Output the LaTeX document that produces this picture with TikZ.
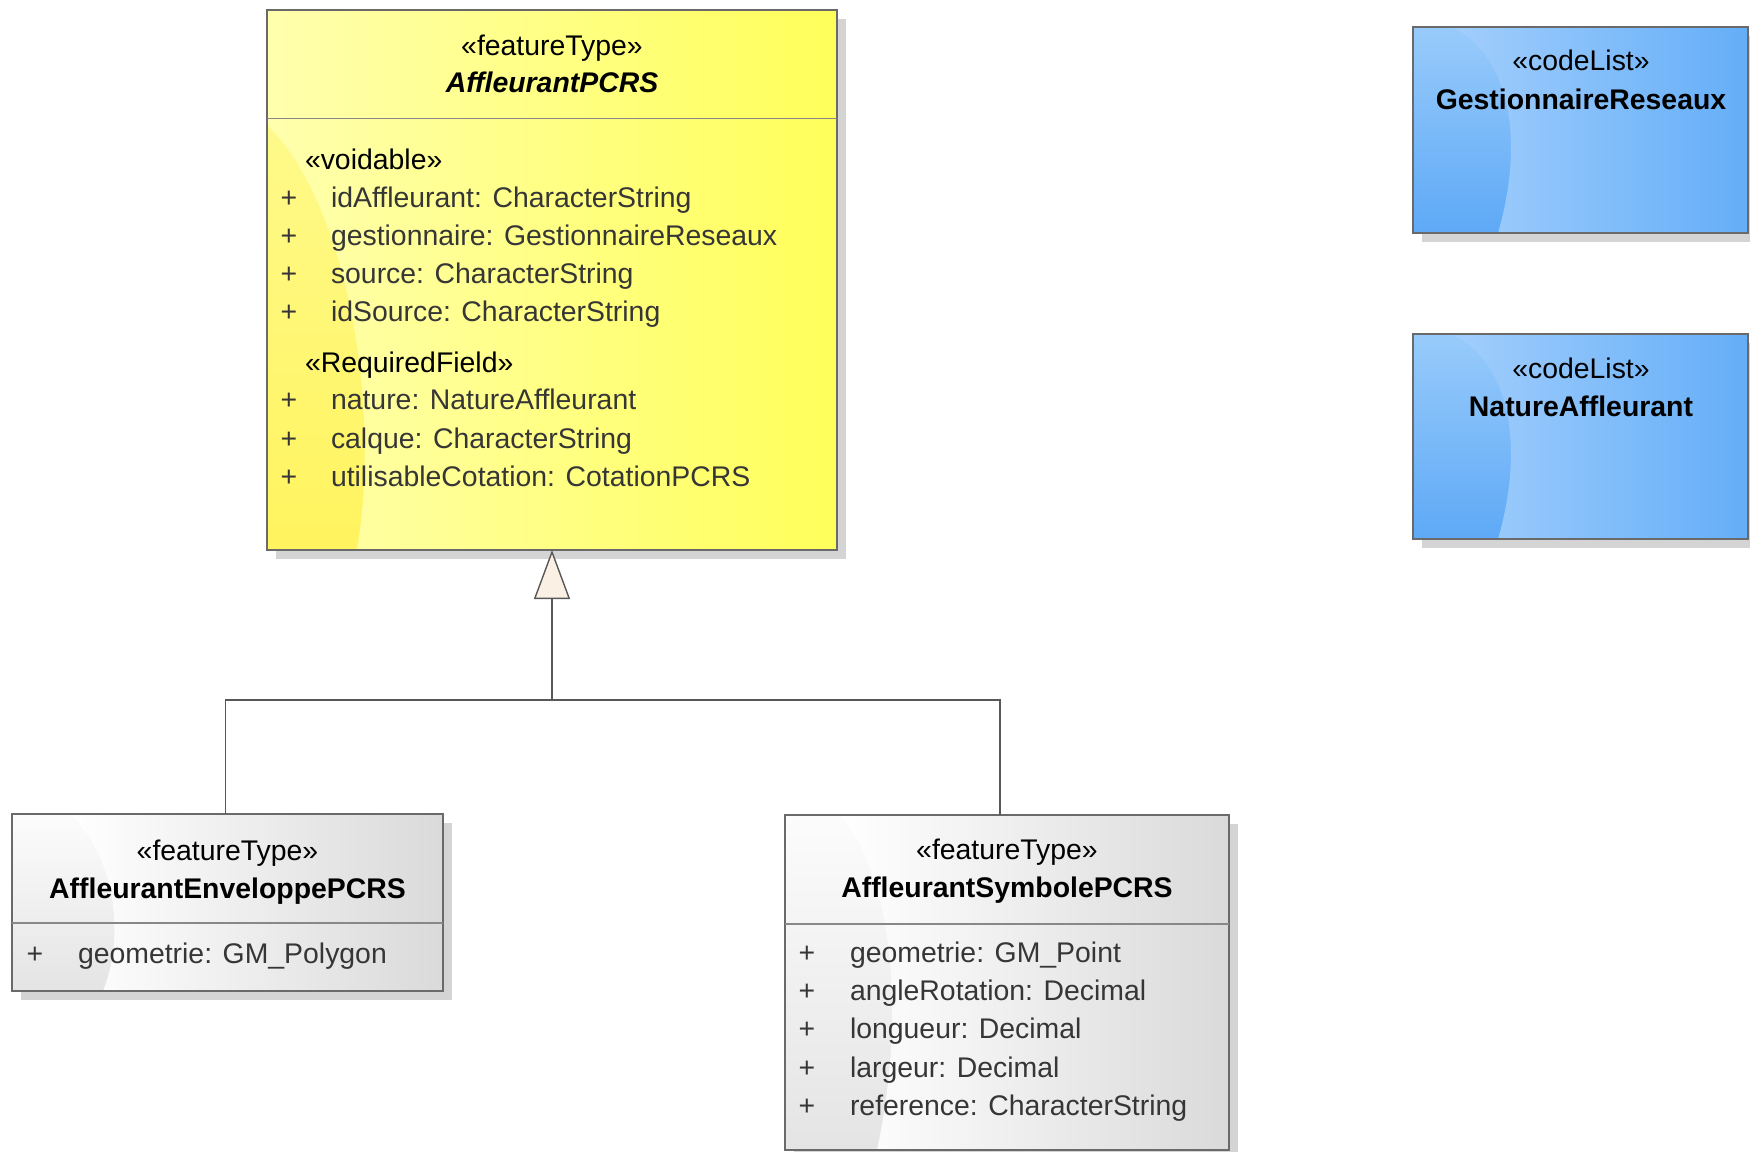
\documentclass[tikz,border=0pt]{standalone}
\usepackage{fontspec}
\setmainfont{Liberation Sans}
\usetikzlibrary{arrows.meta}

\definecolor{shadowgray}{HTML}{D4D4D4}
\definecolor{edgegray}{HTML}{6A6A6A}
\definecolor{linegray}{HTML}{585858}
\definecolor{attrgray}{HTML}{363636}
\definecolor{yelTop}{HTML}{FFFB96}
\definecolor{yelBot}{HTML}{FFF45E}
\definecolor{yelPale}{HTML}{FFFFAE}
\definecolor{yelMid}{HTML}{FFFFA6}
\definecolor{yelR}{HTML}{FFFF5A}
\definecolor{bluTop}{HTML}{98CBFB}
\definecolor{bluBot}{HTML}{5EA9F6}
\definecolor{bluPale}{HTML}{A2CEFC}
\definecolor{bluMid}{HTML}{98C9FB}
\definecolor{bluR}{HTML}{64AEF8}
\definecolor{gryTop}{HTML}{FCFCFC}
\definecolor{gryBot}{HTML}{E4E4E4}
\definecolor{gryR}{HTML}{DADADA}
\definecolor{tribeige}{HTML}{FAF0E4}

\tikzset{
  classbox/.style={rectangle, inner sep=0pt, outer sep=0pt},
  boxedge/.style={draw=edgegray, line width=0.8pt},
  divider/.style={draw=edgegray!80, line width=0.7pt},
  boxshadow/.style={fill=shadowgray},
  conn/.style={draw=linegray, line width=0.7pt},
  gen/.style={conn, -{Triangle[length=24.5pt, width=18pt, fill=tribeige]}},
  txtbase/.style={inner sep=0pt, outer sep=0pt, text height=10.2pt, text depth=0pt,
                  font=\fontsize{14.2}{17}\selectfont},
  stereo/.style={txtbase, anchor=center, text=black},
  cname/.style={txtbase, anchor=center, text=black, font=\fontsize{14.2}{17}\selectfont\bfseries},
  aname/.style={txtbase, anchor=center, text=black, font=\fontsize{14.2}{17}\selectfont\bfseries\itshape},
  tag/.style={txtbase, anchor=west, text=black},
  vis/.style={txtbase, anchor=center, text=attrgray},
  attr/.style={txtbase, anchor=west, text=attrgray},
}

\begin{document}
\begin{tikzpicture}[x=0.5pt, y=-0.5pt]
\useasboundingbox (0,0) rectangle (1750,1151);

% ---------- class frames ----------
\node[classbox, minimum width=285pt, minimum height=270pt] (base) at (552,280) {};
\node[classbox, minimum width=215.5pt, minimum height=88.5pt] (env) at (227.5,902.5) {};
\node[classbox, minimum width=222pt, minimum height=167.5pt] (sym) at (1007,982.5) {};
\node[classbox, minimum width=167.5pt, minimum height=103pt] (gest) at (1580.5,130) {};
\node[classbox, minimum width=167.5pt, minimum height=102.5pt] (nat) at (1580.5,436.5) {};

% drop shadows
\foreach \b in {base,env,sym,gest,nat}
  \fill[boxshadow] ([shift={(9,9)}]\b.south west) rectangle ([shift={(9,9)}]\b.north east);

% AffleurantPCRS: yellow body with a glossy sweep
\shade[top color=yelTop, bottom color=yelBot] (base.south west) rectangle (base.north east);
\shade[left color=yelPale, middle color=yelMid, right color=yelR]
  (357,550) .. controls (382,400) and (345,200) .. (267,125) -- (267,10) -- (837,10) -- (837,550) -- cycle;

% AffleurantEnveloppePCRS: grey body
\shade[top color=gryTop, bottom color=gryBot] (env.south west) rectangle (env.north east);
\shade[left color=white, middle color=white, right color=gryR]
  (103,991) .. controls (124,940) and (118,860) .. (70,814) -- (443,814) -- (443,991) -- cycle;

% AffleurantSymbolePCRS: grey body
\shade[top color=gryTop, bottom color=gryBot] (sym.south west) rectangle (sym.north east);
\shade[left color=white, middle color=white, right color=gryR]
  (877,1150) .. controls (905,1020) and (895,880) .. (840,815) -- (1229,815) -- (1229,1150) -- cycle;

% code lists: blue bodies
\foreach \b/\t/\bt in {gest/27/233, nat/334/539}{
  \shade[top color=bluTop, bottom color=bluBot] (\b.south west) rectangle (\b.north east);
  \shade[left color=bluPale, middle color=bluMid, right color=bluR]
    (1498,\bt) .. controls (1524,\bt-90) and (1512,\t+30) .. (1452,\t) -- (1748,\t) -- (1748,\bt) -- cycle;
}

% outlines and compartment dividers
\foreach \b in {base,env,sym,gest,nat}
  \draw[boxedge] (\b.south west) rectangle (\b.north east);
\draw[divider] (base.west |- 0,118.6) -- (base.east |- 0,118.6);
\draw[divider] (env.west |- 0,923) -- (env.east |- 0,923);
\draw[divider] (sym.west |- 0,924) -- (sym.east |- 0,924);

% ---------- generalisation ----------
\coordinate (jn) at (552,700);
\draw[conn] ([xshift=-1pt]env.north) |- (jn) -| ([xshift=-3.5pt]sym.north);
\draw[gen] (jn) -- (base.south);

% ---------- AffleurantPCRS ----------
\node[stereo] (bst) at (552,44.9) {«featureType»};
\node[aname] (bnm) at (552,82.3) {AffleurantPCRS};
\node[tag] (bvo) at (305,158.9) {«voidable»};
\node[vis] (bp1) at (289,197) {+};
\node[attr] (ba1) at (331,197) {idAffleurant: CharacterString};
\node[vis] (bp2) at (289,235.5) {+};
\node[attr] (ba2) at (331,235.5) {gestionnaire: GestionnaireReseaux};
\node[vis] (bp3) at (289,273.6) {+};
\node[attr] (ba3) at (331,273.6) {source: CharacterString};
\node[vis] (bp4) at (289,311.3) {+};
\node[attr] (ba4) at (331,311.3) {idSource: CharacterString};
\node[tag] (brf) at (305,362) {«RequiredField»};
\node[vis] (bp5) at (289,399.3) {+};
\node[attr] (ba5) at (331,399.3) {nature: NatureAffleurant};
\node[vis] (bp6) at (289,437.8) {+};
\node[attr] (ba6) at (331,437.8) {calque: CharacterString};
\node[vis] (bp7) at (289,475.9) {+};
\node[attr] (ba7) at (331,475.9) {utilisableCotation: CotationPCRS};

% ---------- AffleurantEnveloppePCRS ----------
\node[stereo] (est) at (227.5,850) {«featureType»};
\node[cname] (enm) at (227.5,888) {AffleurantEnveloppePCRS};
\node[vis] (ep1) at (35,953) {+};
\node[attr] (ea1) at (78,953) {geometrie: GM\_Polygon};

% ---------- AffleurantSymbolePCRS ----------
\node[stereo] (sst) at (1007,849) {«featureType»};
\node[cname] (snm) at (1007,887) {AffleurantSymbolePCRS};
\node[vis] (sp1) at (807,952) {+};
\node[attr] (sa1) at (850,952) {geometrie: GM\_Point};
\node[vis] (sp2) at (807,990) {+};
\node[attr] (sa2) at (850,990) {angleRotation: Decimal};
\node[vis] (sp3) at (807,1028) {+};
\node[attr] (sa3) at (850,1028) {longueur: Decimal};
\node[vis] (sp4) at (807,1067) {+};
\node[attr] (sa4) at (850,1067) {largeur: Decimal};
\node[vis] (sp5) at (807,1105) {+};
\node[attr] (sa5) at (850,1105) {reference: CharacterString};

% ---------- code lists ----------
\node[stereo] (gst) at (1581,60.5) {«codeList»};
\node[cname] (gnm) at (1581,99.5) {GestionnaireReseaux};
\node[stereo] (nst) at (1581,368) {«codeList»};
\node[cname] (nnm) at (1581,406.5) {NatureAffleurant};
\end{tikzpicture}
\end{document}
